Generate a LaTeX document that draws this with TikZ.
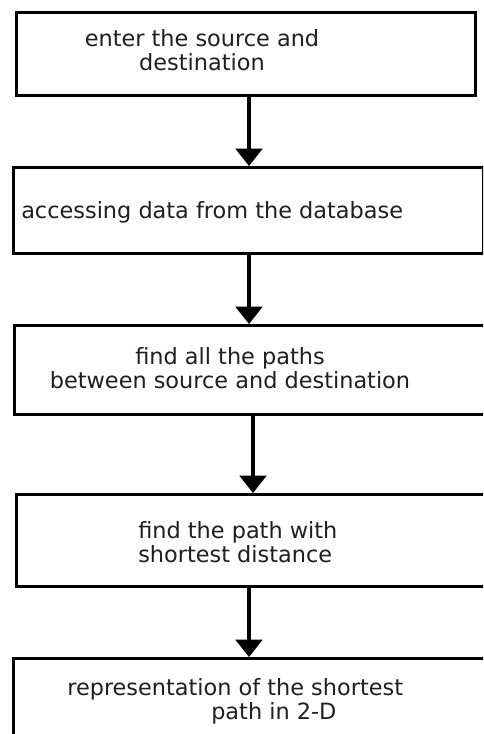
\documentclass[tikz,border=0pt]{standalone}
\usepackage{fontspec}
\setmainfont{DejaVu Sans}
\usetikzlibrary{arrows.meta}
\begin{document}
\begin{tikzpicture}[x=0.75pt,y=-0.75pt,
  box/.style={draw=black,line width=2.2pt,inner sep=0pt},
  txt/.style={inner sep=0pt,font=\fontsize{16.8}{18}\selectfont,text=black!88},
  flow/.style={line width=2.3pt,-{Triangle[width=20pt,length=13pt]}}]
\useasboundingbox (0,0) rectangle (483,734);
\clip (0,0) rectangle (483,734);
\fill[white] (0,0) rectangle (483,734);
\node[box,minimum width=459*0.75pt,minimum height=83*0.75pt,anchor=north west] (b1) at (15,11) {};
\node[box,minimum width=470*0.75pt,minimum height=86*0.75pt,anchor=north west] (b2) at (12,166) {};
\node[box,minimum width=480*0.75pt,minimum height=89*0.75pt,anchor=north west] (b3) at (13,324) {};
\node[box,minimum width=480*0.75pt,minimum height=92*0.75pt,anchor=north west] (b4) at (15,493) {};
\node[box,minimum width=480*0.75pt,minimum height=92*0.75pt,anchor=north west] (b5) at (12,657) {};
\node[txt,align=center] (t1) at (202,50) {enter the source and\\destination};
\node[txt,anchor=west] (t2) at (21,212) {accessing data from the database};
\node[txt,align=center] (t3) at (230,368) {find all the paths\\between source and destination};
\node[txt,align=left,anchor=west] (t4) at (138,542) {find the path with\\shortest distance};
\node[txt,align=left,anchor=west] (t5) at (67,701) {representation of the shortest\\\hspace*{108pt}path in 2-D};
\draw[flow] (b1.south -| 249,0) -- (b2.north -| 249,0);
\draw[flow] (b2.south -| 249,0) -- (b3.north -| 249,0);
\draw[flow] (b3.south -| 253,0) -- (b4.north -| 253,0);
\draw[flow] (b4.south -| 249,0) -- (b5.north -| 249,0);
\end{tikzpicture}
\end{document}
